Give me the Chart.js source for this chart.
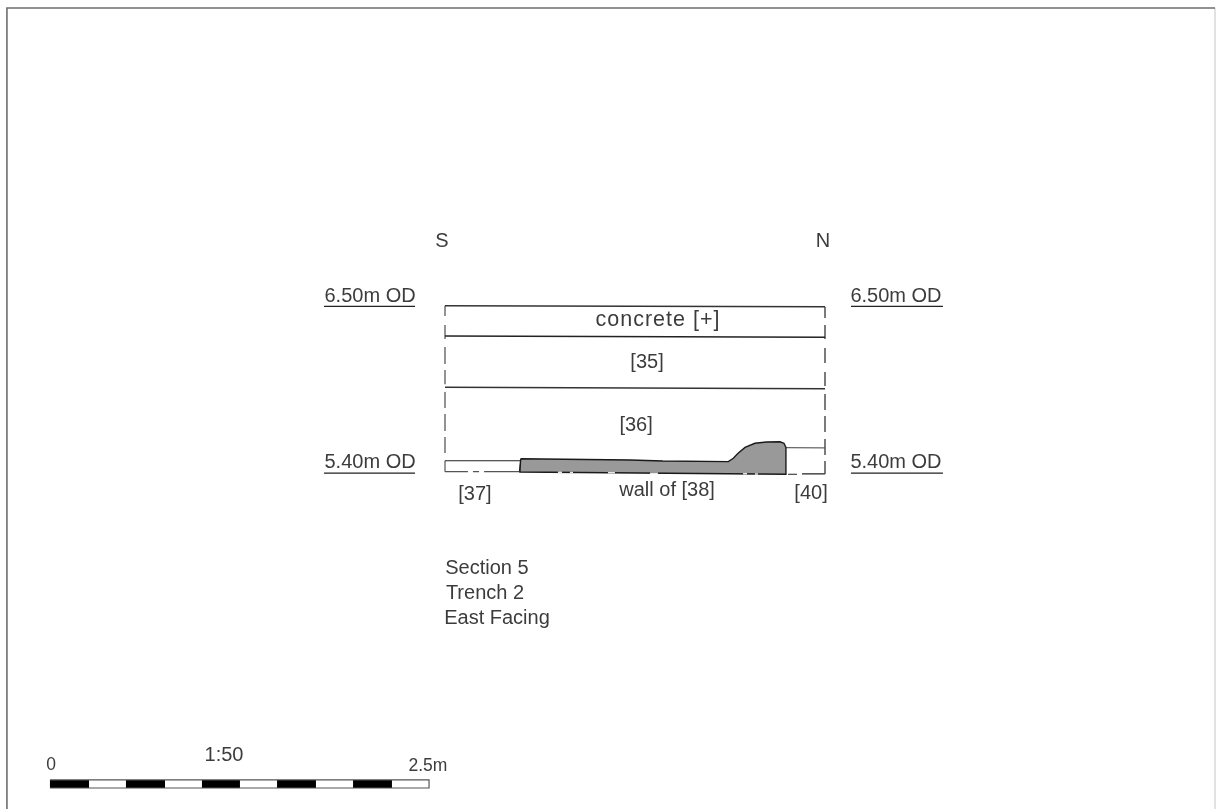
<!DOCTYPE html>
<html>
<head>
<meta charset="utf-8">
<style>html,body{margin:0;padding:0;background:#fff;overflow:hidden}canvas{display:block}</style>
<script src="https://cdn.jsdelivr.net/npm/chart.js@4/dist/chart.umd.min.js"></script>
</head>
<body>
<canvas id="c" width="1216" height="809"></canvas>
<script>
// All values in section units: metres along the section (x) and metres OD (y).
const topLineX = [0, 2.5];           const topLineY = [6.502, 6.495];
const concreteBaseX = [0, 2.5];      const concreteBaseY = [6.303, 6.294];
const layer35BaseX = [0, 2.5];       const layer35BaseY = [5.965, 5.956];
const leftEdgeX = [0,0,null,0,0,null,0,0,null,0,0,null,0,0,null,0,0,null,0,0];
const leftEdgeY = [6.502,6.434,null,6.375,6.283,null,6.230,6.118,null,6.079,5.985,null,5.934,5.829,null,5.789,5.678,null,5.638,5.533];
const rightEdgeX = [2.5,2.5,null,2.5,2.5,null,2.5,2.5,null,2.5,2.5,null,2.5,2.5,null,2.5,2.5,null,2.5,2.5,null,2.5,2.5];
const rightEdgeY = [6.495,6.421,null,6.375,6.283,null,6.224,6.125,null,6.066,5.974,null,5.921,5.816,null,5.776,5.671,null,5.625,5.520,null,5.480,5.395];
const box37X = [0,0.498,0.490];      const box37Y = [5.482,5.482,5.410];
const box37SideX = [0,0];            const box37SideY = [5.482,5.410];
const baseDashX = [0,0.151,null,0.184,0.224,null,0.257,0.490];
const baseDashY = [5.410,5.410,null,5.410,5.410,null,5.410,5.410];
const wallX = [0.498,1.217,1.434,1.864,1.897,1.928,1.974,2.039,2.116,2.204,2.230,2.243,2.243,0.493,0.498];
const wallY = [5.495,5.487,5.480,5.476,5.498,5.531,5.570,5.597,5.605,5.607,5.597,5.570,5.393,5.408,5.495];
const wallGapX = [0.743,0.770,null,0.822,0.842,null,1.072,1.118,null,1.349,1.401,null,1.961,1.987,null,2.039,2.059];
const wallGapY = [5.406,5.406,null,5.405,5.405,null,5.403,5.403,null,5.400,5.400,null,5.396,5.396,null,5.395,5.395];
const layer40X = [2.243,2.5];        const layer40Y = [5.568,5.566];
const layer40BaseX = [2.257,2.316,null,2.349,2.5];
const layer40BaseY = [5.393,5.393,null,5.395,5.395];
const levelX = [-0.796,-0.197,null,2.671,3.276,null,-0.796,-0.197,null,2.671,3.276];
const levelY = [6.498,6.498,null,6.498,6.498,null,5.401,5.401,null,5.401,5.401];
const scaleBlackX = [-2.599,-2.342,null,-2.099,-1.842,null,-1.599,-1.349,null,-1.105,-0.849,null,-0.605,-0.349];
const scaleBlackY = [3.355,3.355,null,3.355,3.355,null,3.355,3.355,null,3.355,3.355,null,3.355,3.355];
const scaleOutlineX = [-2.599,-0.105,-0.105,-2.599];
const scaleOutlineY = [3.382,3.382,3.329,3.329];
const frameX = [-2.882,-2.882,5.066];  const frameY = [3.1908,8.461,8.461];
const frameRightX = [5.066,5.066];     const frameRightY = [8.461,3.1908];

const labelTexts = ["S","N","6.50m OD","6.50m OD","5.40m OD","5.40m OD","concrete [+]","[35]","[36]","wall of [38]","[37]","[40]","Section 5","Trench 2","East Facing","1:50","0","2.5m"];
const labelX = [-0.020,2.487,-0.493,2.967,-0.493,2.967,1.401,1.329,1.257,1.461,0.197,2.408,0.276,0.263,0.342,-1.454,-2.592,-0.112];
const labelY = [6.934,6.934,6.572,6.572,5.480,5.480,6.414,6.138,5.724,5.296,5.270,5.276,4.783,4.618,4.454,3.553,3.487,3.480];

const pts = (xs, ys) => xs.map((x, i) => ({x, y: ys[i]}));
const line = (xs, ys, color, width, extra) => Object.assign({
  data: pts(xs, ys), showLine: true, borderColor: color, borderWidth: width,
  pointRadius: 0, fill: false, tension: 0, spanGaps: false, borderCapStyle: 'butt'
}, extra || {});

const textPlugin = {
  id: 'sectionText',
  afterDatasetsDraw(chart) {
    const {ctx, scales} = chart;
    ctx.save();
    ctx.fillStyle = '#3c3c3c';
    ctx.textAlign = 'center';
    ctx.textBaseline = 'middle';
    labelTexts.forEach((t, i) => {
      const small = t === '0' || t === '2.5m';
      const wide = t.startsWith('concrete');
      ctx.font = (small ? '17.5px' : wide ? '21.5px' : '20px') + ' "Liberation Sans", sans-serif';
      ctx.letterSpacing = wide ? '1px' : '0px';
      ctx.fillText(t, scales.x.getPixelForValue(labelX[i]), scales.y.getPixelForValue(labelY[i]) + 1.5);
    });
    ctx.restore();
  }
};

new Chart(document.getElementById('c'), {
  type: 'scatter',
  data: {datasets: [
    line(frameX, frameY, '#6e6e6e', 1.6),
    line(frameRightX, frameRightY, '#dddddd', 1),
    line(wallGapX, wallGapY, '#e8e8e8', 1.6),
    line(wallX, wallY, '#1a1a1a', 1.4, {fill: 'shape', backgroundColor: '#999999'}),
    line(topLineX, topLineY, '#333333', 1.4),
    line(concreteBaseX, concreteBaseY, '#222222', 1.4),
    line(layer35BaseX, layer35BaseY, '#333333', 1.4),
    line(leftEdgeX, leftEdgeY, '#666666', 1.4),
    line(rightEdgeX, rightEdgeY, '#444444', 1.4),
    line(box37X, box37Y, '#222222', 1.2),
    line(box37SideX, box37SideY, '#555555', 1.2),
    line(baseDashX, baseDashY, '#555555', 1.3),
    line(layer40X, layer40Y, '#666666', 1.2),
    line(layer40BaseX, layer40BaseY, '#222222', 1.2),
    line(levelX, levelY, '#222222', 1.2),
    line(scaleOutlineX, scaleOutlineY, '#555555', 1.2),
    line(scaleBlackX, scaleBlackY, '#000000', 8)
  ]},
  options: {
    responsive: false,
    animation: false,
    devicePixelRatio: 1,
    layout: {padding: 0},
    plugins: {legend: {display: false}, tooltip: {enabled: false}, title: {display: false}},
    scales: {
      x: {type: 'linear', display: false, min: -2.92763, max: 5.07237},
      y: {type: 'linear', display: false, min: 3.19079, max: 8.51316}
    }
  },
  plugins: [textPlugin]
});
</script>
</body>
</html>
